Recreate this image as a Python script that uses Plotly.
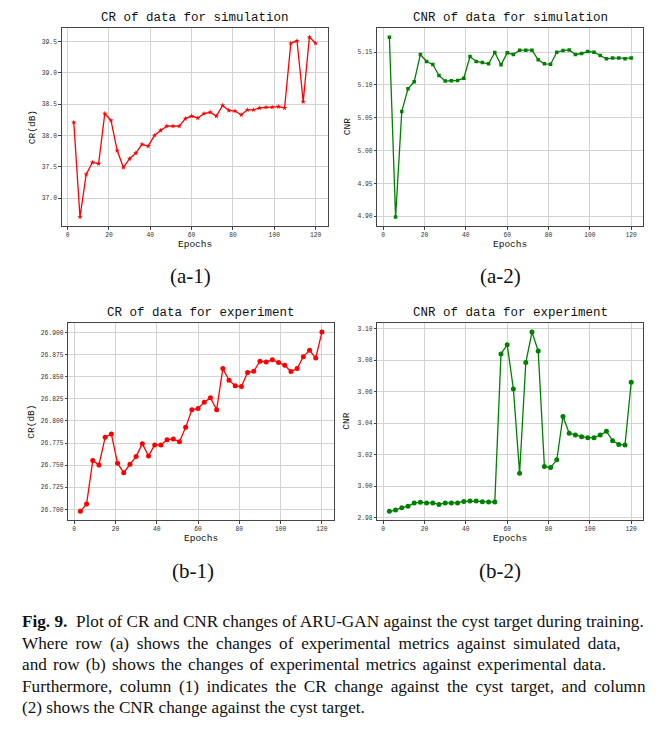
import plotly.graph_objects as go

epochs = list(range(3, 121, 3))

cr_sim = [38.21, 36.70, 37.38, 37.57, 37.55, 38.35, 38.24, 37.76, 37.49, 37.63,
          37.72, 37.86, 37.83, 38.00, 38.08, 38.15, 38.15, 38.15, 38.27, 38.31,
          38.28, 38.35, 38.37, 38.31, 38.48, 38.40, 38.39, 38.33, 38.41, 38.41,
          38.44, 38.45, 38.45, 38.46, 38.44, 39.47, 39.51, 38.54, 39.57, 39.47]

cnr_sim = [5.1728, 4.8985, 5.0597, 5.0942, 5.1049, 5.1465, 5.1358, 5.1312, 5.1145, 5.1059,
           5.1064, 5.1069, 5.1104, 5.1434, 5.1358, 5.1343, 5.1323, 5.1495, 5.1307, 5.1490,
           5.1465, 5.1530, 5.1530, 5.1530, 5.1383, 5.1323, 5.1317, 5.1500, 5.1525, 5.1535,
           5.1465, 5.1480, 5.1510, 5.1500, 5.1450, 5.1399, 5.1410, 5.1410, 5.1399, 5.1410]

cr_exp = [26.6978, 26.7060, 26.7552, 26.7503, 26.7814, 26.7852, 26.7522, 26.7413, 26.7510, 26.7597,
          26.7743, 26.7604, 26.7728, 26.7728, 26.7788, 26.7795, 26.7765, 26.7927, 26.8126, 26.8141,
          26.8212, 26.8261, 26.8126, 26.8591, 26.8460, 26.8396, 26.8388, 26.8546, 26.8561, 26.8674,
          26.8666, 26.8692, 26.8659, 26.8629, 26.8557, 26.8591, 26.8726, 26.8797, 26.8711, 26.9004]

cnr_exp = [2.9840, 2.9848, 2.9863, 2.9872, 2.9893, 2.9897, 2.9893, 2.9893, 2.9884, 2.9893,
           2.9893, 2.9893, 2.9903, 2.9905, 2.9905, 2.9901, 2.9899, 2.9899, 3.0840, 3.0899,
           3.0617, 3.0082, 3.0785, 3.0979, 3.0859, 3.0125, 3.0118, 3.0167, 3.0443, 3.0336,
           3.0325, 3.0314, 3.0308, 3.0308, 3.0325, 3.0348, 3.0289, 3.0264, 3.0262, 3.0660]

x_ticks = [0, 20, 40, 60, 80, 100, 120]
cr_sim_ticks = [37.0, 37.5, 38.0, 38.5, 39.0, 39.5]
cnr_sim_ticks = [4.90, 4.95, 5.00, 5.05, 5.10, 5.15]
cr_exp_ticks = [26.700, 26.725, 26.750, 26.775, 26.800, 26.825, 26.850, 26.875, 26.900]
cnr_exp_ticks = [2.98, 3.00, 3.02, 3.04, 3.06, 3.08, 3.10]

titles = ["CR of data for simulation", "CNR of data for simulation",
          "CR of data for experiment", "CNR of data for experiment"]
ylabels = ["CR(dB)", "CNR", "CR(dB)", "CNR"]
panel_labels = ["(a-1)", "(a-2)", "(b-1)", "(b-2)"]

caption_lines = [
    "<b>Fig. 9.</b>  Plot of CR and CNR changes of ARU-GAN against the cyst target during training.",
    "Where row (a) shows the changes of experimental metrics against simulated data,",
    "and row (b) shows the changes of experimental metrics against experimental data.",
    "Furthermore, column (1) indicates the CR change against the cyst target, and column",
    "(2) shows the CNR change against the cyst target.",
]
caption_word_spacing = [0, 3.4, 1.8, 3.3, 0]

OFF = 8  # default page body margin
W, H = 661 - 2 * OFF, 733 - 2 * OFF
RED = "#ff0000"
GREEN = "#008000"
MONO = "Liberation Mono, DejaVu Sans Mono, monospace"
SERIF = "Liberation Serif, DejaVu Serif, serif"

# panel geometry in window pixels: (x0, x1, ytop, ybottom)
panels = [
    (61.7, 327.7, 28.3, 226.7),
    (377.3, 643.3, 28.3, 226.7),
    (68.3, 334.0, 324.0, 521.7),
    (377.3, 643.3, 324.0, 521.7),
]
yranges = [[36.556, 39.71], [4.8848, 5.1865], [26.6877, 26.9105], [2.9783, 3.1036]]
yticks = [cr_sim_ticks, cnr_sim_ticks, cr_exp_ticks, cnr_exp_ticks]
yfmts = [".1f", ".2f", ".3f", ".2f"]
series = [cr_sim, cnr_sim, cr_exp, cnr_exp]
colors = [RED, GREEN, RED, GREEN]
symbols = ["star", "square", "circle", "circle"]
msizes = [4, 3.5, 5, 5]
ylabel_x = [32, 347, 32, 347]
label_y = [277, 277, 573, 573]
label_x = [190, 500, 193, 500]

fig = go.Figure()
layout = dict(
    width=W, height=H,
    margin=dict(l=0, r=0, t=0, b=0),
    paper_bgcolor="white", plot_bgcolor="white",
    showlegend=False,
    annotations=[],
)

def px_x(v):
    return (v - OFF) / W

def px_y(v):
    return 1 - (v - OFF) / H

for i in range(4):
    x0, x1, yt, yb = panels[i]
    sfx = "" if i == 0 else str(i + 1)
    fig.add_trace(go.Scatter(
        x=epochs, y=series[i], mode="lines+markers",
        line=dict(color=colors[i], width=1.3),
        marker=dict(symbol=symbols[i], size=msizes[i], color=colors[i],
                    line=dict(width=0)),
        xaxis="x" + sfx, yaxis="y" + sfx,
    ))
    axis_common = dict(
        showline=True, mirror=True, linecolor="#444444", linewidth=1,
        showgrid=True, gridcolor="#d3d3d3", gridwidth=1,
        ticks="outside", ticklen=2.5, tickcolor="#444444", tickwidth=0.8,
        tickfont=dict(family=MONO, size=6.3, color="#333333"),
        zeroline=False,
    )
    layout["xaxis" + sfx] = dict(
        axis_common, domain=[px_x(x0), px_x(x1)], range=[-2.85, 125.85],
        tickvals=x_ticks, anchor="y" + sfx,
    )
    layout["yaxis" + sfx] = dict(
        axis_common, domain=[px_y(yb), px_y(yt)], range=yranges[i],
        tickvals=yticks[i], tickformat=yfmts[i], anchor="x" + sfx,
    )
    cx = (x0 + x1) / 2
    layout["annotations"].append(dict(
        text=titles[i], x=px_x(cx), y=px_y(yt - 10), xref="paper", yref="paper",
        showarrow=False, xanchor="center", yanchor="middle",
        font=dict(family=MONO, size=12.5, color="#111111"),
    ))
    layout["annotations"].append(dict(
        text="Epochs", x=px_x(cx), y=px_y(yb + 18), xref="paper", yref="paper",
        showarrow=False, xanchor="center", yanchor="middle",
        font=dict(family=MONO, size=9.5, color="#111111"),
    ))
    layout["annotations"].append(dict(
        text=ylabels[i], x=px_x(ylabel_x[i]), y=px_y((yt + yb) / 2), xref="paper", yref="paper",
        showarrow=False, xanchor="center", yanchor="middle", textangle=-90,
        font=dict(family=MONO, size=9.5, color="#111111"),
    ))
    layout["annotations"].append(dict(
        text=panel_labels[i], x=px_x(label_x[i]), y=px_y(label_y[i]), xref="paper", yref="paper",
        showarrow=False, xanchor="center", yanchor="middle",
        font=dict(family=SERIF, size=21, color="#111111"),
    ))

cap_y = [623, 645, 666, 688, 709]
for line, yy, ws in zip(caption_lines, cap_y, caption_word_spacing):
    txt = line if ws == 0 else '<span style="word-spacing:%.1fpx">%s</span>' % (ws, line)
    layout["annotations"].append(dict(
        text=txt, x=px_x(20), y=px_y(yy), xref="paper", yref="paper",
        showarrow=False, xanchor="left", yanchor="middle",
        font=dict(family=SERIF, size=17.2, color="#111111"),
    ))

fig.update_layout(**layout)
fig.write_html("out.html")
